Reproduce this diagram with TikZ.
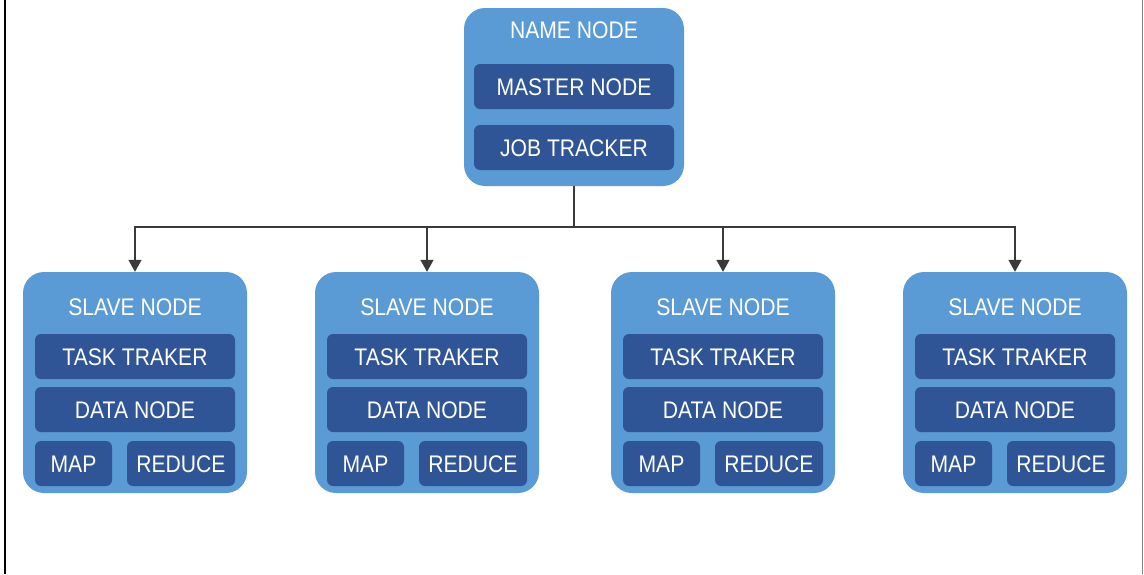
\documentclass[tikz,border=0pt]{standalone}
\usepackage{fontspec}
\setmainfont{Liberation Sans}[FakeStretch=0.88]
\usetikzlibrary{arrows.meta}
\definecolor{outerblue}{HTML}{5B9BD5}
\definecolor{innerblue}{HTML}{2F5597}
\definecolor{wire}{HTML}{3A3A3A}
\tikzset{
  outerbox/.style={fill=outerblue, rounded corners=21pt, inner sep=0pt},
  innerbox/.style={fill=innerblue, rounded corners=6pt, minimum height=45pt,
    text=white, font=\fontsize{24}{24}\selectfont, inner sep=0pt,
    text height=17pt, text depth=0pt},
  boxtitle/.style={text=white, font=\fontsize{24}{24}\selectfont, inner sep=0pt,
    text height=17pt, text depth=0pt},
  conn/.style={draw=wire, line width=1.4pt, -{Triangle[length=12pt,width=13pt]}},
}
\begin{document}
\begin{tikzpicture}[x=1pt,y=-1pt]
\fill[white] (0,0) rectangle (1144,574);
\useasboundingbox (0,0) rectangle (1144,574);
% frame lines at the sides
\draw[black, line width=2pt] (5,0) -- (5,574);
\draw[gray, line width=1pt] (1142,0) -- (1142,574);

% master
\node[outerbox, minimum width=220pt, minimum height=178pt] (name) at (574,97) {};
\node[boxtitle] (nametitle) at (574,30) {NAME NODE};
\node[innerbox, minimum width=200pt] (master) at (574,86.5) {MASTER NODE};
\node[innerbox, minimum width=200pt] (job) at (574,147.5) {JOB TRACKER};
\coordinate (bus) at (574,227);

% slaves
\foreach \i/\x in {1/135, 2/427, 3/723, 4/1015} {
  \node[outerbox, minimum width=224pt, minimum height=221pt] (s\i) at (\x,382.5) {};
  \node[boxtitle] (s\i title) at (\x,306.5) {SLAVE NODE};
  \node[innerbox, minimum width=200pt] (s\i task) at (\x,356.5) {TASK TRAKER};
  \node[innerbox, minimum width=200pt] (s\i data) at (\x,409.5) {DATA NODE};
  \node[innerbox, minimum width=77pt] (s\i map) at (\x-61.5,463.5) {MAP};
  \node[innerbox, minimum width=108pt] (s\i reduce) at (\x+46,463.5) {REDUCE};
  \draw[conn] (name.south) -- (bus) -| (s\i.north);
}
\end{tikzpicture}
\end{document}
